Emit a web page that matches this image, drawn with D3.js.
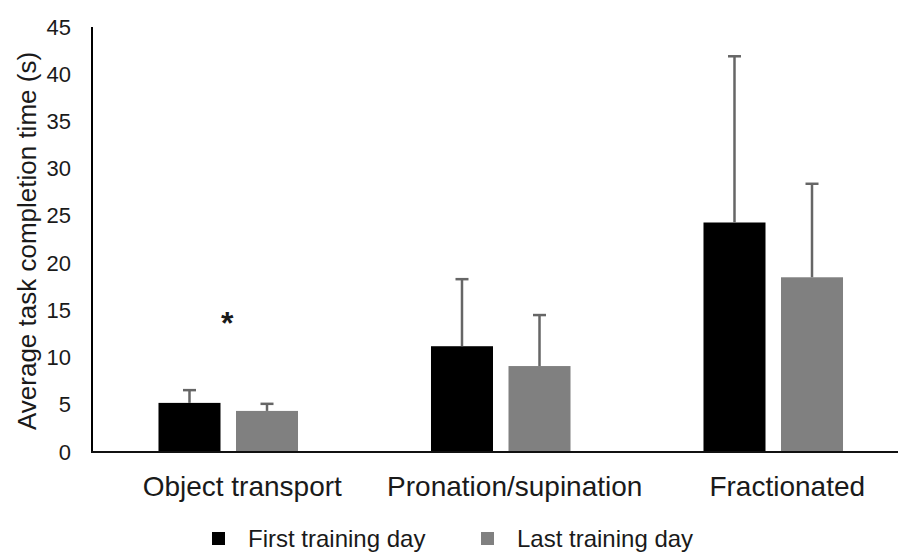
<!DOCTYPE html>
<html>
<head>
<meta charset="utf-8">
<script src="https://cdn.jsdelivr.net/npm/d3@7"></script>
<style>
  body { margin: 0; background: #fff; }
  text { font-family: "Liberation Sans", Arial, sans-serif; fill: #1a1a1a; }
</style>
</head>
<body>
<div id="container"></div>
<script>
var categories = ["Object transport", "Pronation/supination", "Fractionated"];
var seriesNames = ["First training day", "Last training day"];
var seriesColors = ["#000000", "#808080"];
var firstDay = [5.2, 11.2, 24.3];
var firstDayErr = [1.35, 7.1, 17.6];
var lastDay = [4.35, 9.1, 18.5];
var lastDayErr = [0.75, 5.4, 9.9];
var sigMarks = ["*", "", ""];
var yTicks = [0, 5, 10, 15, 20, 25, 30, 35, 40, 45];

var width = 899, height = 554;

var svg = d3.select("#container").append("svg")
  .attr("width", width)
  .attr("height", height);

var y = d3.scaleLinear().domain([0, 45]).range([452, 27]);

var x0 = d3.scaleBand().domain(categories)
  .range([92, 909.5])
  .paddingInner(0.488)
  .paddingOuter(0.244);

var x1 = d3.scaleBand().domain(seriesNames)
  .range([0, x0.bandwidth()])
  .paddingInner(0.2);

// one row per bar
var rows = [];
categories.forEach(function (c, i) {
  rows.push({cat: c, series: seriesNames[0], value: firstDay[i], err: firstDayErr[i], color: seriesColors[0]});
  rows.push({cat: c, series: seriesNames[1], value: lastDay[i], err: lastDayErr[i], color: seriesColors[1]});
});

// bars
svg.append("g").selectAll("rect")
  .data(rows).enter().append("rect")
  .attr("x", function (d) { return x0(d.cat) + x1(d.series); })
  .attr("y", function (d) { return y(d.value); })
  .attr("width", x1.bandwidth())
  .attr("height", function (d) { return y(0) - y(d.value); })
  .attr("fill", function (d) { return d.color; });

// error bars (upper only)
var errG = svg.append("g").attr("stroke", "#666666").attr("stroke-width", 2.5);
rows.forEach(function (d) {
  var cx = x0(d.cat) + x1(d.series) + x1.bandwidth() / 2;
  errG.append("line")
    .attr("x1", cx).attr("x2", cx)
    .attr("y1", y(d.value)).attr("y2", y(d.value + d.err));
  errG.append("line")
    .attr("x1", cx - 6.5).attr("x2", cx + 6.5)
    .attr("y1", y(d.value + d.err)).attr("y2", y(d.value + d.err));
});

// significance marks
svg.append("g").selectAll("text")
  .data(categories).enter().append("text")
  .attr("x", function (d) { return x0(d) + x0.bandwidth() / 2 - 1; })
  .attr("y", y(12.45))
  .attr("text-anchor", "middle")
  .style("font-size", "32px")
  .style("font-weight", "bold")
  .text(function (d, i) { return sigMarks[i]; });

// y axis
var yAxis = d3.axisLeft(y).tickValues(yTicks).tickSize(0).tickPadding(21);
var yg = svg.append("g").attr("transform", "translate(92,0)").call(yAxis);
yg.select(".domain").remove();
yg.selectAll("text").style("font-size", "22px").attr("fill", "#1a1a1a");

svg.append("line")
  .attr("x1", 92).attr("x2", 92)
  .attr("y1", y(45)).attr("y2", y(0))
  .attr("stroke", "#000").attr("stroke-width", 2);

// x axis line
svg.append("line")
  .attr("x1", 91).attr("x2", 898)
  .attr("y1", y(0)).attr("y2", y(0))
  .attr("stroke", "#111").attr("stroke-width", 2);

// category labels
svg.append("g").selectAll("text")
  .data(categories).enter().append("text")
  .attr("x", function (d) { return x0(d) + x0.bandwidth() / 2 + 14; })
  .attr("y", 496)
  .attr("text-anchor", "middle")
  .style("font-size", "28px")
  .text(function (d) { return d; });

// y title
svg.append("text")
  .attr("transform", "translate(36,241) rotate(-90)")
  .attr("text-anchor", "middle")
  .style("font-size", "26px")
  .text("Average task completion time (s)");

// legend
var legend = svg.append("g").attr("transform", "translate(212,532)");
var items = legend.selectAll("g")
  .data(seriesNames).enter().append("g")
  .attr("transform", function (d, i) { return "translate(" + (i * 269) + ",0)"; });
items.append("rect")
  .attr("width", 13).attr("height", 13)
  .attr("fill", function (d, i) { return seriesColors[i]; });
items.append("text")
  .attr("x", 36).attr("y", 15)
  .style("font-size", "24px")
  .text(function (d) { return d; });
</script>
</body>
</html>
